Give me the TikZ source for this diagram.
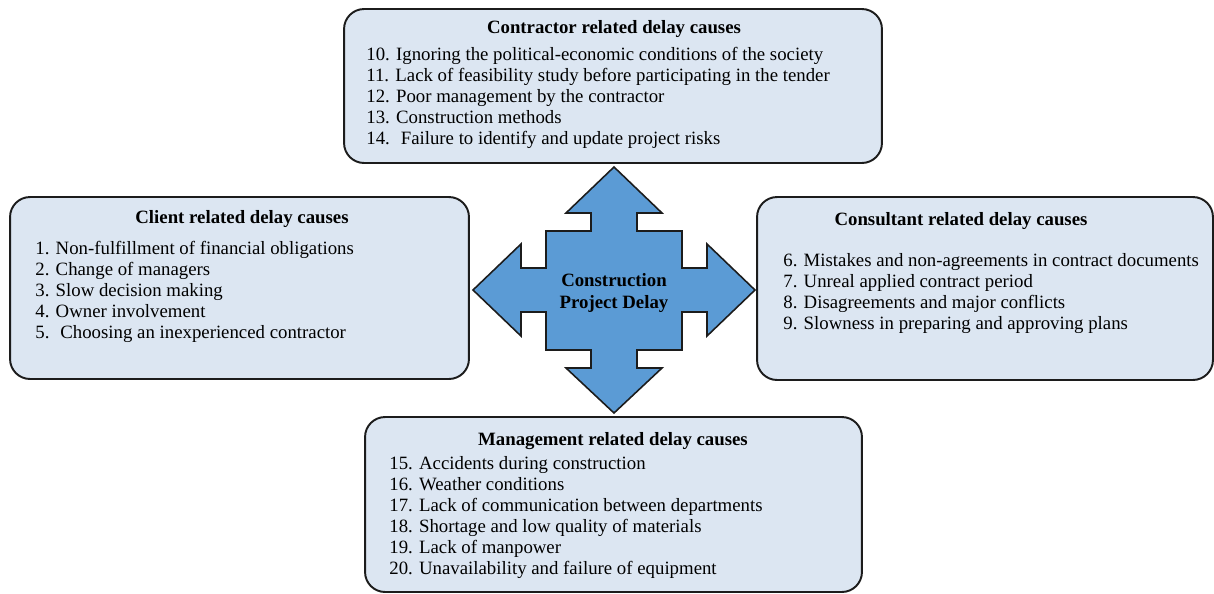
\documentclass[tikz,border=0pt]{standalone}
\usepackage{fontspec}
\setmainfont{Liberation Serif}
\usepackage{tikz}
\usetikzlibrary{positioning}
\usepackage{xcolor}
\definecolor{causefill}{HTML}{DCE6F2}
\definecolor{hubfill}{HTML}{5B9BD5}
\definecolor{edgegray}{HTML}{1C1C1C}

\begin{document}
\begin{tikzpicture}[x=0.02cm, y=-0.02cm,
    causebox/.style={draw=edgegray, line width=1.1pt, rounded corners=0.4cm, fill=causefill, inner sep=0pt},
    causetitle/.style={font=\bfseries\fontsize{10.7}{12}\selectfont, anchor=base, inner sep=0pt},
    causelist/.style={font=\fontsize{10.7}{11.95}\selectfont, align=left, anchor=north west, inner sep=0pt}]
    \useasboundingbox (0,0) rectangle (1214,593);

    % four boxes
    \node[causebox, minimum width=10.76cm, minimum height=3.08cm] (contractor) at (613,86) {};
    \node[causebox, minimum width=9.18cm, minimum height=3.64cm] (client) at (239.5,288) {};
    \node[causebox, minimum width=9.12cm, minimum height=3.66cm] (consultant) at (985,288.5) {};
    \node[causebox, minimum width=9.94cm, minimum height=3.5cm] (management) at (613.5,504.5) {};

    \node[causetitle] (contractortitle) at (614,33) {Contractor related delay causes};
    \node[causelist] (contractorlist) at (366,47) {10. Ignoring the political-economic conditions of the society\\
        11. Lack of feasibility study before participating in the tender\\
        12. Poor management by the contractor\\
        13. Construction methods\\
        14.~ Failure to identify and update project risks};

    \node[causetitle] (clienttitle) at (242,223) {Client related delay causes};
    \node[causelist] (clientlist) at (35,241) {1. Non-fulfillment of financial obligations\\
        2. Change of managers\\
        3. Slow decision making\\
        4. Owner involvement\\
        5.~ Choosing an inexperienced contractor};

    \node[causetitle] (consultanttitle) at (961,225) {Consultant related delay causes};
    \node[causelist] (consultantlist) at (783,253) {6. Mistakes and non-agreements in contract documents\\
        7. Unreal applied contract period\\
        8. Disagreements and major conflicts\\
        9. Slowness in preparing and approving plans};

    \node[causetitle] (managementtitle) at (613,445) {Management related delay causes};
    \node[causelist] (managementlist) at (389,456) {15. Accidents during construction\\
        16. Weather conditions\\
        17. Lack of communication between departments\\
        18. Shortage and low quality of materials\\
        19. Lack of manpower\\
        20. Unavailability and failure of equipment};

    % four-way arrow in the middle
    \draw[draw=edgegray, line width=0.9pt, fill=hubfill, shift={(614,290)}]
        (0,-123) -- (48,-77) -- (23,-77) -- (23,-59) -- (68,-59) -- (68,-22) -- (93,-22) -- (93,-46)
        -- (141,0) -- (93,46) -- (93,22) -- (68,22) -- (68,60) -- (23,60) -- (23,78) -- (48,78)
        -- (0,123) -- (-48,78) -- (-23,78) -- (-23,60) -- (-68,60) -- (-68,22) -- (-93,22) -- (-93,46)
        -- (-141,0) -- (-93,-46) -- (-93,-22) -- (-68,-22) -- (-68,-59) -- (-23,-59) -- (-23,-77) -- (-48,-77) -- cycle;
    \node[font=\bfseries\fontsize{10.7}{12}\selectfont, align=center, inner sep=0pt] (hub) at (614,293) {Construction\\Project Delay};
\end{tikzpicture}
\end{document}
